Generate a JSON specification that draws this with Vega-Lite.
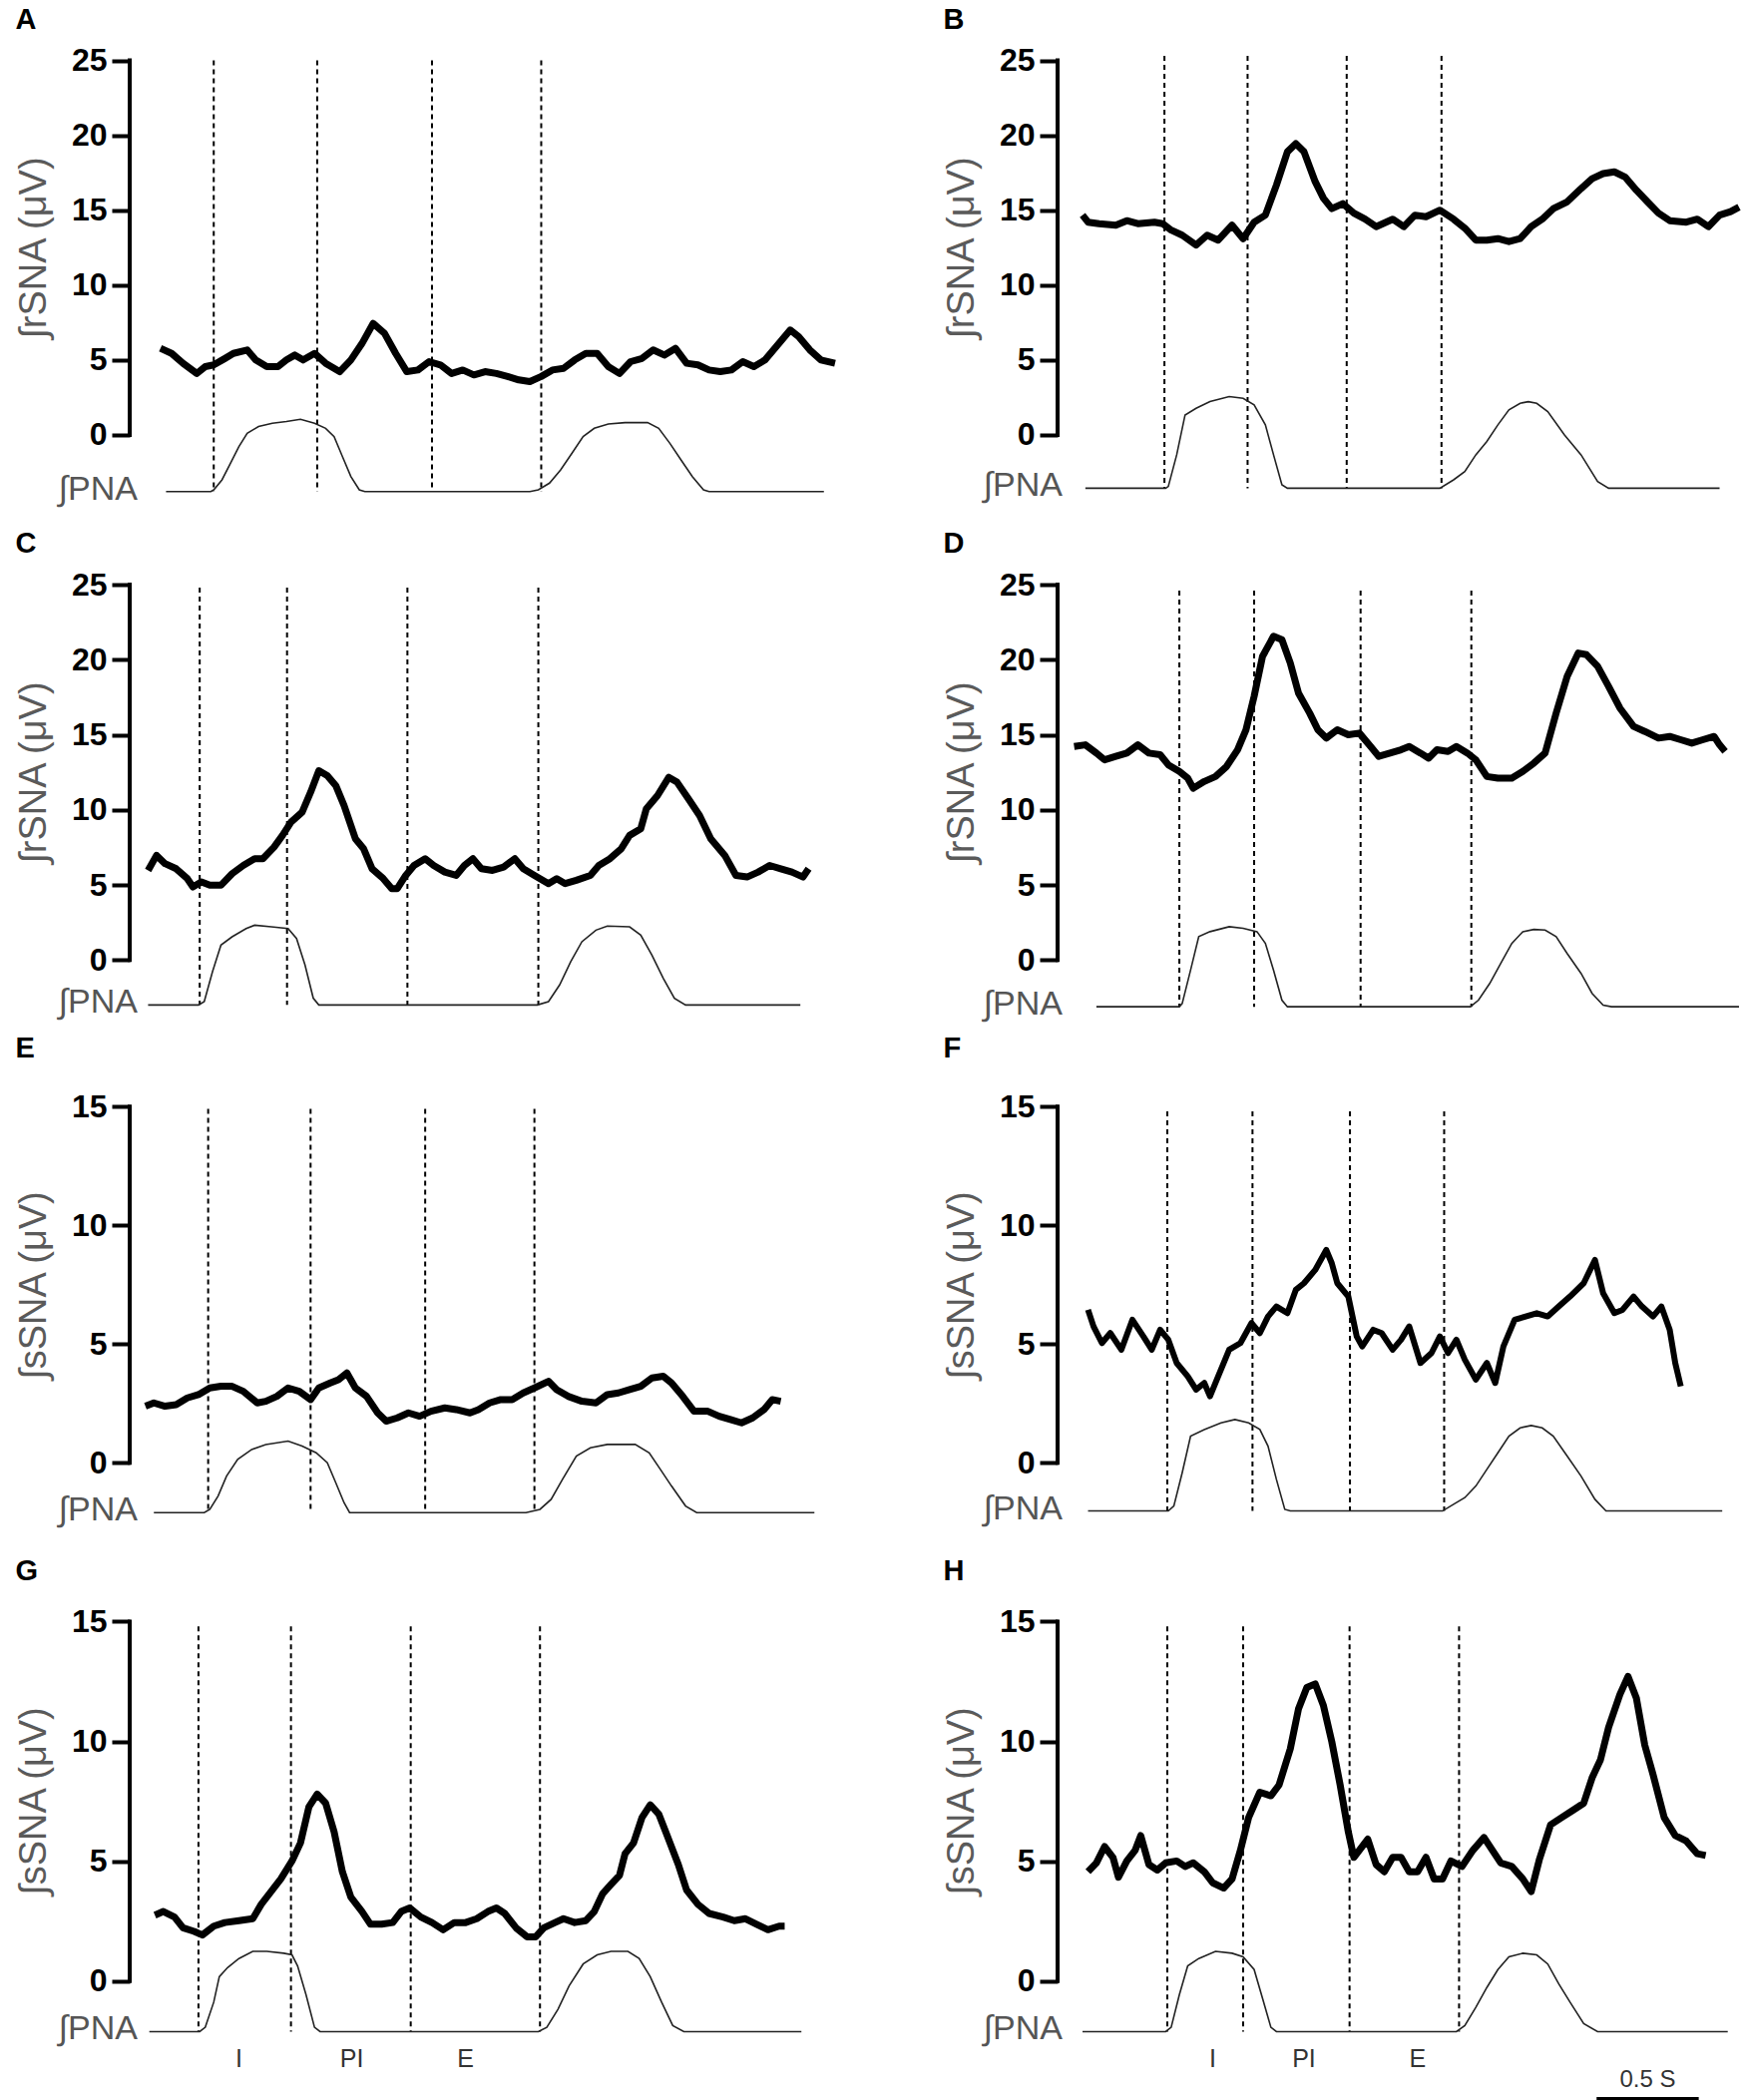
{
"$schema": "https://vega.github.io/schema/vega-lite/v6.json",
"padding": {"left": 15, "top": 5, "right": 0, "bottom": 0},
"background": "white",
"config": {
  "font": "Liberation Sans",
  "view": {"stroke": null},
  "axisY": {"domain": false, "grid": false, "ticks": true, "tickColor": "black", "tickWidth": 4, "tickSize": 18, "labelFont": "Liberation Sans", "labelFontSize": 32, "labelFontWeight": "bold", "labelColor": "black", "labelPadding": 5, "titleFont": "Liberation Sans", "titleFontSize": 38, "titleFontWeight": "normal", "titleColor": "#5a5a5a", "titlePadding": 18},
  "title": {"anchor": "start", "frame": "bounds", "fontSize": 29, "fontWeight": "bold", "font": "Liberation Sans", "color": "black"}
},
"datasets": {
"sA": [{"t":0.149,"v":5.78},{"t":0.203,"v":5.44},{"t":0.258,"v":4.78},{"t":0.325,"v":4.1},{"t":0.366,"v":4.56},{"t":0.407,"v":4.67},{"t":0.461,"v":5.1},{"t":0.502,"v":5.44},{"t":0.569,"v":5.67},{"t":0.610,"v":5.0},{"t":0.664,"v":4.56},{"t":0.718,"v":4.56},{"t":0.759,"v":5.0},{"t":0.800,"v":5.33},{"t":0.840,"v":5.0},{"t":0.895,"v":5.44},{"t":0.949,"v":4.78},{"t":1.017,"v":4.22},{"t":1.071,"v":5.0},{"t":1.125,"v":6.1},{"t":1.179,"v":7.44},{"t":1.234,"v":6.78},{"t":1.288,"v":5.44},{"t":1.342,"v":4.22},{"t":1.396,"v":4.33},{"t":1.450,"v":4.89},{"t":1.505,"v":4.67},{"t":1.559,"v":4.1},{"t":1.613,"v":4.33},{"t":1.667,"v":4.0},{"t":1.721,"v":4.22},{"t":1.776,"v":4.1},{"t":1.830,"v":3.9},{"t":1.884,"v":3.67},{"t":1.938,"v":3.56},{"t":1.993,"v":3.9},{"t":2.047,"v":4.33},{"t":2.101,"v":4.44},{"t":2.155,"v":5.0},{"t":2.209,"v":5.44},{"t":2.264,"v":5.44},{"t":2.318,"v":4.56},{"t":2.372,"v":4.1},{"t":2.426,"v":4.89},{"t":2.481,"v":5.1},{"t":2.535,"v":5.67},{"t":2.589,"v":5.33},{"t":2.643,"v":5.78},{"t":2.697,"v":4.78},{"t":2.752,"v":4.67},{"t":2.806,"v":4.33},{"t":2.860,"v":4.22},{"t":2.914,"v":4.33},{"t":2.969,"v":4.89},{"t":3.023,"v":4.56},{"t":3.077,"v":5.0},{"t":3.131,"v":5.89},{"t":3.199,"v":7.0},{"t":3.240,"v":6.56},{"t":3.294,"v":5.67},{"t":3.348,"v":5.0},{"t":3.416,"v":4.78}],
"pA": [{"t":0.176,"v":-3.78},{"t":0.393,"v":-3.78},{"t":0.407,"v":-3.67},{"t":0.447,"v":-3.0},{"t":0.488,"v":-1.89},{"t":0.529,"v":-0.78},{"t":0.569,"v":0.11},{"t":0.624,"v":0.56},{"t":0.691,"v":0.78},{"t":0.759,"v":0.89},{"t":0.827,"v":1.04},{"t":0.895,"v":0.78},{"t":0.949,"v":0.44},{"t":0.990,"v":-0.11},{"t":1.030,"v":-1.44},{"t":1.071,"v":-2.78},{"t":1.112,"v":-3.67},{"t":1.139,"v":-3.78},{"t":1.938,"v":-3.78},{"t":1.979,"v":-3.67},{"t":2.033,"v":-3.22},{"t":2.087,"v":-2.33},{"t":2.142,"v":-1.22},{"t":2.196,"v":-0.11},{"t":2.250,"v":0.44},{"t":2.318,"v":0.73},{"t":2.399,"v":0.82},{"t":2.508,"v":0.82},{"t":2.562,"v":0.44},{"t":2.616,"v":-0.56},{"t":2.670,"v":-1.67},{"t":2.725,"v":-2.78},{"t":2.779,"v":-3.67},{"t":2.806,"v":-3.78},{"t":3.362,"v":-3.78}],
"sB": [{"t":0.122,"v":14.67},{"t":0.149,"v":14.2},{"t":0.203,"v":14.1},{"t":0.285,"v":14.0},{"t":0.339,"v":14.3},{"t":0.393,"v":14.1},{"t":0.474,"v":14.2},{"t":0.515,"v":14.1},{"t":0.556,"v":13.67},{"t":0.610,"v":13.33},{"t":0.678,"v":12.67},{"t":0.732,"v":13.33},{"t":0.786,"v":13.0},{"t":0.854,"v":14.0},{"t":0.908,"v":13.1},{"t":0.962,"v":14.2},{"t":1.017,"v":14.67},{"t":1.071,"v":16.67},{"t":1.125,"v":18.9},{"t":1.166,"v":19.44},{"t":1.206,"v":18.9},{"t":1.261,"v":16.9},{"t":1.301,"v":15.8},{"t":1.342,"v":15.1},{"t":1.396,"v":15.44},{"t":1.450,"v":14.8},{"t":1.505,"v":14.4},{"t":1.559,"v":13.9},{"t":1.640,"v":14.4},{"t":1.694,"v":13.9},{"t":1.749,"v":14.67},{"t":1.803,"v":14.56},{"t":1.871,"v":15.0},{"t":1.938,"v":14.4},{"t":1.993,"v":13.8},{"t":2.047,"v":13.0},{"t":2.101,"v":13.0},{"t":2.155,"v":13.1},{"t":2.209,"v":12.9},{"t":2.264,"v":13.1},{"t":2.318,"v":13.9},{"t":2.372,"v":14.4},{"t":2.426,"v":15.1},{"t":2.494,"v":15.56},{"t":2.562,"v":16.44},{"t":2.616,"v":17.1},{"t":2.670,"v":17.44},{"t":2.725,"v":17.56},{"t":2.779,"v":17.2},{"t":2.833,"v":16.33},{"t":2.887,"v":15.56},{"t":2.941,"v":14.8},{"t":2.996,"v":14.3},{"t":3.077,"v":14.2},{"t":3.131,"v":14.4},{"t":3.185,"v":13.9},{"t":3.240,"v":14.67},{"t":3.294,"v":14.9},{"t":3.335,"v":15.2}],
"pB": [{"t":0.136,"v":-3.56},{"t":0.529,"v":-3.56},{"t":0.542,"v":-3.44},{"t":0.583,"v":-1.33},{"t":0.624,"v":1.33},{"t":0.678,"v":1.78},{"t":0.746,"v":2.22},{"t":0.840,"v":2.56},{"t":0.908,"v":2.44},{"t":0.962,"v":2.0},{"t":1.017,"v":0.67},{"t":1.057,"v":-1.33},{"t":1.098,"v":-3.33},{"t":1.125,"v":-3.56},{"t":1.871,"v":-3.56},{"t":1.938,"v":-3.0},{"t":1.993,"v":-2.44},{"t":2.047,"v":-1.33},{"t":2.101,"v":-0.44},{"t":2.155,"v":0.67},{"t":2.209,"v":1.67},{"t":2.264,"v":2.11},{"t":2.304,"v":2.22},{"t":2.345,"v":2.11},{"t":2.399,"v":1.56},{"t":2.481,"v":0.0},{"t":2.562,"v":-1.33},{"t":2.643,"v":-3.11},{"t":2.697,"v":-3.56},{"t":3.240,"v":-3.56}],
"sC": [{"t":0.089,"v":5.97},{"t":0.130,"v":6.97},{"t":0.171,"v":6.42},{"t":0.225,"v":6.08},{"t":0.279,"v":5.42},{"t":0.306,"v":4.87},{"t":0.347,"v":5.2},{"t":0.388,"v":4.98},{"t":0.442,"v":4.98},{"t":0.496,"v":5.75},{"t":0.550,"v":6.3},{"t":0.605,"v":6.75},{"t":0.645,"v":6.75},{"t":0.699,"v":7.52},{"t":0.740,"v":8.3},{"t":0.781,"v":9.18},{"t":0.835,"v":9.85},{"t":0.876,"v":11.17},{"t":0.916,"v":12.61},{"t":0.957,"v":12.28},{"t":0.998,"v":11.62},{"t":1.038,"v":10.29},{"t":1.093,"v":8.08},{"t":1.133,"v":7.41},{"t":1.174,"v":6.08},{"t":1.228,"v":5.42},{"t":1.269,"v":4.76},{"t":1.296,"v":4.76},{"t":1.337,"v":5.64},{"t":1.377,"v":6.3},{"t":1.431,"v":6.75},{"t":1.472,"v":6.3},{"t":1.526,"v":5.86},{"t":1.581,"v":5.64},{"t":1.621,"v":6.3},{"t":1.662,"v":6.75},{"t":1.703,"v":6.08},{"t":1.757,"v":5.97},{"t":1.811,"v":6.19},{"t":1.865,"v":6.75},{"t":1.906,"v":6.08},{"t":1.960,"v":5.64},{"t":2.028,"v":5.09},{"t":2.068,"v":5.42},{"t":2.109,"v":5.09},{"t":2.163,"v":5.31},{"t":2.231,"v":5.64},{"t":2.272,"v":6.3},{"t":2.326,"v":6.75},{"t":2.380,"v":7.41},{"t":2.421,"v":8.3},{"t":2.475,"v":8.74},{"t":2.502,"v":10.07},{"t":2.556,"v":10.95},{"t":2.611,"v":12.17},{"t":2.651,"v":11.84},{"t":2.706,"v":10.73},{"t":2.760,"v":9.62},{"t":2.814,"v":8.08},{"t":2.882,"v":6.97},{"t":2.936,"v":5.64},{"t":2.990,"v":5.53},{"t":3.044,"v":5.86},{"t":3.099,"v":6.3},{"t":3.153,"v":6.08},{"t":3.207,"v":5.86},{"t":3.261,"v":5.53},{"t":3.288,"v":6.08}],
"pC": [{"t":0.089,"v":-2.99},{"t":0.333,"v":-2.99},{"t":0.361,"v":-2.77},{"t":0.401,"v":-0.77},{"t":0.442,"v":1.0},{"t":0.496,"v":1.55},{"t":0.564,"v":2.1},{"t":0.605,"v":2.32},{"t":0.686,"v":2.21},{"t":0.767,"v":2.1},{"t":0.808,"v":1.44},{"t":0.849,"v":-0.33},{"t":0.889,"v":-2.54},{"t":0.916,"v":-2.99},{"t":1.974,"v":-2.99},{"t":2.028,"v":-2.77},{"t":2.082,"v":-1.66},{"t":2.136,"v":-0.11},{"t":2.190,"v":1.22},{"t":2.258,"v":1.99},{"t":2.313,"v":2.26},{"t":2.421,"v":2.21},{"t":2.475,"v":1.66},{"t":2.529,"v":0.33},{"t":2.584,"v":-1.22},{"t":2.638,"v":-2.54},{"t":2.692,"v":-2.99},{"t":3.248,"v":-2.99}],
"sD": [{"t":0.081,"v":14.22},{"t":0.136,"v":14.33},{"t":0.190,"v":13.78},{"t":0.230,"v":13.33},{"t":0.285,"v":13.56},{"t":0.339,"v":13.78},{"t":0.393,"v":14.33},{"t":0.447,"v":13.78},{"t":0.502,"v":13.67},{"t":0.542,"v":13.0},{"t":0.596,"v":12.56},{"t":0.637,"v":12.11},{"t":0.664,"v":11.44},{"t":0.718,"v":11.89},{"t":0.773,"v":12.22},{"t":0.827,"v":12.89},{"t":0.881,"v":14.0},{"t":0.922,"v":15.33},{"t":0.962,"v":17.56},{"t":1.003,"v":20.22},{"t":1.057,"v":21.56},{"t":1.098,"v":21.33},{"t":1.139,"v":19.78},{"t":1.179,"v":17.78},{"t":1.234,"v":16.44},{"t":1.274,"v":15.33},{"t":1.315,"v":14.78},{"t":1.369,"v":15.33},{"t":1.423,"v":15.0},{"t":1.477,"v":15.11},{"t":1.532,"v":14.22},{"t":1.572,"v":13.56},{"t":1.627,"v":13.78},{"t":1.681,"v":14.0},{"t":1.721,"v":14.22},{"t":1.776,"v":13.78},{"t":1.816,"v":13.44},{"t":1.857,"v":14.0},{"t":1.911,"v":13.89},{"t":1.952,"v":14.22},{"t":2.006,"v":13.78},{"t":2.047,"v":13.33},{"t":2.101,"v":12.22},{"t":2.155,"v":12.11},{"t":2.223,"v":12.11},{"t":2.277,"v":12.56},{"t":2.331,"v":13.11},{"t":2.386,"v":13.78},{"t":2.440,"v":16.44},{"t":2.494,"v":18.89},{"t":2.548,"v":20.44},{"t":2.589,"v":20.33},{"t":2.643,"v":19.56},{"t":2.697,"v":18.22},{"t":2.752,"v":16.78},{"t":2.819,"v":15.56},{"t":2.874,"v":15.22},{"t":2.941,"v":14.78},{"t":2.996,"v":14.89},{"t":3.050,"v":14.67},{"t":3.104,"v":14.44},{"t":3.158,"v":14.67},{"t":3.213,"v":14.89},{"t":3.240,"v":14.33},{"t":3.267,"v":13.89}],
"pD": [{"t":0.190,"v":-3.11},{"t":0.596,"v":-3.11},{"t":0.610,"v":-2.89},{"t":0.651,"v":-0.67},{"t":0.691,"v":1.56},{"t":0.746,"v":1.89},{"t":0.840,"v":2.22},{"t":0.908,"v":2.11},{"t":0.976,"v":1.89},{"t":1.017,"v":1.11},{"t":1.057,"v":-0.67},{"t":1.098,"v":-2.67},{"t":1.125,"v":-3.11},{"t":2.020,"v":-3.11},{"t":2.060,"v":-2.67},{"t":2.115,"v":-1.56},{"t":2.169,"v":-0.22},{"t":2.223,"v":1.11},{"t":2.277,"v":1.89},{"t":2.331,"v":2.04},{"t":2.386,"v":2.0},{"t":2.440,"v":1.56},{"t":2.494,"v":0.44},{"t":2.562,"v":-0.89},{"t":2.616,"v":-2.22},{"t":2.670,"v":-3.0},{"t":2.711,"v":-3.11},{"t":3.335,"v":-3.11}],
"sE": [{"t":0.076,"v":2.38},{"t":0.117,"v":2.52},{"t":0.171,"v":2.38},{"t":0.225,"v":2.45},{"t":0.279,"v":2.73},{"t":0.333,"v":2.87},{"t":0.388,"v":3.15},{"t":0.442,"v":3.22},{"t":0.496,"v":3.22},{"t":0.550,"v":3.01},{"t":0.618,"v":2.52},{"t":0.659,"v":2.59},{"t":0.713,"v":2.8},{"t":0.767,"v":3.15},{"t":0.821,"v":3.01},{"t":0.876,"v":2.66},{"t":0.916,"v":3.15},{"t":0.971,"v":3.36},{"t":1.011,"v":3.5},{"t":1.052,"v":3.78},{"t":1.093,"v":3.15},{"t":1.147,"v":2.8},{"t":1.201,"v":2.1},{"t":1.242,"v":1.75},{"t":1.296,"v":1.89},{"t":1.350,"v":2.1},{"t":1.404,"v":1.96},{"t":1.459,"v":2.17},{"t":1.526,"v":2.31},{"t":1.581,"v":2.24},{"t":1.648,"v":2.1},{"t":1.689,"v":2.24},{"t":1.743,"v":2.52},{"t":1.797,"v":2.66},{"t":1.852,"v":2.66},{"t":1.906,"v":2.94},{"t":1.960,"v":3.15},{"t":2.028,"v":3.43},{"t":2.068,"v":3.08},{"t":2.123,"v":2.8},{"t":2.190,"v":2.59},{"t":2.258,"v":2.52},{"t":2.313,"v":2.87},{"t":2.367,"v":2.94},{"t":2.421,"v":3.08},{"t":2.475,"v":3.22},{"t":2.529,"v":3.57},{"t":2.584,"v":3.64},{"t":2.624,"v":3.36},{"t":2.678,"v":2.8},{"t":2.733,"v":2.17},{"t":2.800,"v":2.17},{"t":2.855,"v":1.96},{"t":2.909,"v":1.82},{"t":2.963,"v":1.68},{"t":3.017,"v":1.89},{"t":3.072,"v":2.24},{"t":3.112,"v":2.66},{"t":3.153,"v":2.59}],
"pE": [{"t":0.117,"v":-2.10},{"t":0.361,"v":-2.10},{"t":0.388,"v":-1.96},{"t":0.428,"v":-1.40},{"t":0.469,"v":-0.56},{"t":0.523,"v":0.14},{"t":0.591,"v":0.56},{"t":0.659,"v":0.77},{"t":0.767,"v":0.91},{"t":0.835,"v":0.70},{"t":0.903,"v":0.42},{"t":0.957,"v":0.0},{"t":0.998,"v":-0.84},{"t":1.038,"v":-1.68},{"t":1.065,"v":-2.10},{"t":1.919,"v":-2.10},{"t":1.987,"v":-1.96},{"t":2.041,"v":-1.54},{"t":2.096,"v":-0.70},{"t":2.163,"v":0.28},{"t":2.231,"v":0.63},{"t":2.313,"v":0.77},{"t":2.448,"v":0.77},{"t":2.516,"v":0.42},{"t":2.570,"v":-0.28},{"t":2.624,"v":-0.98},{"t":2.692,"v":-1.82},{"t":2.746,"v":-2.10},{"t":3.316,"v":-2.10}],
"sF": [{"t":0.149,"v":6.44},{"t":0.176,"v":5.74},{"t":0.217,"v":5.04},{"t":0.258,"v":5.46},{"t":0.312,"v":4.76},{"t":0.366,"v":6.02},{"t":0.420,"v":5.32},{"t":0.461,"v":4.76},{"t":0.502,"v":5.6},{"t":0.542,"v":5.18},{"t":0.583,"v":4.2},{"t":0.637,"v":3.64},{"t":0.678,"v":3.08},{"t":0.718,"v":3.36},{"t":0.746,"v":2.8},{"t":0.786,"v":3.64},{"t":0.840,"v":4.76},{"t":0.895,"v":5.04},{"t":0.949,"v":5.88},{"t":0.990,"v":5.46},{"t":1.030,"v":6.16},{"t":1.071,"v":6.58},{"t":1.125,"v":6.3},{"t":1.166,"v":7.28},{"t":1.206,"v":7.56},{"t":1.261,"v":8.12},{"t":1.315,"v":8.96},{"t":1.342,"v":8.4},{"t":1.369,"v":7.56},{"t":1.423,"v":7.0},{"t":1.464,"v":5.32},{"t":1.491,"v":4.9},{"t":1.545,"v":5.6},{"t":1.586,"v":5.46},{"t":1.640,"v":4.76},{"t":1.681,"v":5.18},{"t":1.721,"v":5.74},{"t":1.776,"v":4.2},{"t":1.830,"v":4.62},{"t":1.871,"v":5.32},{"t":1.911,"v":4.62},{"t":1.952,"v":5.18},{"t":1.993,"v":4.34},{"t":2.047,"v":3.5},{"t":2.101,"v":4.2},{"t":2.142,"v":3.36},{"t":2.182,"v":4.9},{"t":2.237,"v":6.02},{"t":2.291,"v":6.16},{"t":2.345,"v":6.3},{"t":2.399,"v":6.16},{"t":2.453,"v":6.58},{"t":2.508,"v":7.0},{"t":2.575,"v":7.56},{"t":2.630,"v":8.54},{"t":2.670,"v":7.14},{"t":2.725,"v":6.3},{"t":2.765,"v":6.44},{"t":2.819,"v":7.0},{"t":2.860,"v":6.58},{"t":2.914,"v":6.16},{"t":2.955,"v":6.58},{"t":2.996,"v":5.6},{"t":3.023,"v":4.2},{"t":3.050,"v":3.22}],
"pF": [{"t":0.149,"v":-2.03},{"t":0.542,"v":-2.03},{"t":0.569,"v":-1.82},{"t":0.610,"v":-0.42},{"t":0.651,"v":1.12},{"t":0.718,"v":1.40},{"t":0.800,"v":1.68},{"t":0.868,"v":1.82},{"t":0.935,"v":1.68},{"t":0.990,"v":1.40},{"t":1.030,"v":0.70},{"t":1.071,"v":-0.70},{"t":1.112,"v":-1.96},{"t":1.139,"v":-2.03},{"t":1.884,"v":-2.03},{"t":1.938,"v":-1.75},{"t":1.993,"v":-1.47},{"t":2.047,"v":-0.98},{"t":2.101,"v":-0.28},{"t":2.155,"v":0.42},{"t":2.209,"v":1.12},{"t":2.264,"v":1.47},{"t":2.318,"v":1.57},{"t":2.372,"v":1.47},{"t":2.426,"v":1.12},{"t":2.494,"v":0.28},{"t":2.562,"v":-0.56},{"t":2.630,"v":-1.54},{"t":2.684,"v":-2.03},{"t":3.253,"v":-2.03}],
"sG": [{"t":0.122,"v":2.75},{"t":0.163,"v":2.9},{"t":0.217,"v":2.67},{"t":0.258,"v":2.22},{"t":0.312,"v":2.07},{"t":0.352,"v":1.92},{"t":0.407,"v":2.29},{"t":0.461,"v":2.44},{"t":0.529,"v":2.52},{"t":0.596,"v":2.6},{"t":0.637,"v":3.2},{"t":0.691,"v":3.8},{"t":0.732,"v":4.26},{"t":0.786,"v":5.01},{"t":0.827,"v":5.76},{"t":0.868,"v":7.27},{"t":0.908,"v":7.8},{"t":0.949,"v":7.42},{"t":0.990,"v":6.22},{"t":1.030,"v":4.56},{"t":1.071,"v":3.5},{"t":1.125,"v":2.9},{"t":1.166,"v":2.37},{"t":1.220,"v":2.37},{"t":1.274,"v":2.44},{"t":1.315,"v":2.9},{"t":1.356,"v":3.05},{"t":1.410,"v":2.67},{"t":1.464,"v":2.44},{"t":1.518,"v":2.14},{"t":1.572,"v":2.44},{"t":1.627,"v":2.44},{"t":1.681,"v":2.6},{"t":1.735,"v":2.9},{"t":1.776,"v":3.05},{"t":1.816,"v":2.82},{"t":1.871,"v":2.22},{"t":1.925,"v":1.84},{"t":1.965,"v":1.84},{"t":2.006,"v":2.22},{"t":2.060,"v":2.44},{"t":2.101,"v":2.6},{"t":2.155,"v":2.44},{"t":2.209,"v":2.52},{"t":2.250,"v":2.9},{"t":2.291,"v":3.65},{"t":2.331,"v":4.03},{"t":2.372,"v":4.41},{"t":2.399,"v":5.31},{"t":2.440,"v":5.76},{"t":2.481,"v":6.82},{"t":2.521,"v":7.35},{"t":2.562,"v":6.97},{"t":2.603,"v":6.07},{"t":2.657,"v":4.86},{"t":2.697,"v":3.8},{"t":2.752,"v":3.2},{"t":2.806,"v":2.82},{"t":2.874,"v":2.67},{"t":2.928,"v":2.52},{"t":2.982,"v":2.6},{"t":3.036,"v":2.37},{"t":3.091,"v":2.14},{"t":3.145,"v":2.29},{"t":3.172,"v":2.29}],
"pG": [{"t":0.095,"v":-2.11},{"t":0.339,"v":-2.11},{"t":0.366,"v":-1.93},{"t":0.407,"v":-0.88},{"t":0.434,"v":0.18},{"t":0.474,"v":0.56},{"t":0.529,"v":0.94},{"t":0.596,"v":1.24},{"t":0.664,"v":1.24},{"t":0.746,"v":1.16},{"t":0.786,"v":1.09},{"t":0.813,"v":0.63},{"t":0.854,"v":-0.57},{"t":0.895,"v":-1.93},{"t":0.922,"v":-2.11},{"t":1.979,"v":-2.11},{"t":2.020,"v":-1.93},{"t":2.074,"v":-1.18},{"t":2.128,"v":-0.20},{"t":2.196,"v":0.71},{"t":2.264,"v":1.09},{"t":2.331,"v":1.24},{"t":2.413,"v":1.24},{"t":2.467,"v":0.94},{"t":2.521,"v":0.18},{"t":2.576,"v":-0.88},{"t":2.630,"v":-1.86},{"t":2.684,"v":-2.11},{"t":3.253,"v":-2.11}],
"sH": [{"t":0.149,"v":4.56},{"t":0.190,"v":4.93},{"t":0.230,"v":5.61},{"t":0.271,"v":5.16},{"t":0.298,"v":4.33},{"t":0.339,"v":5.01},{"t":0.380,"v":5.46},{"t":0.407,"v":6.07},{"t":0.447,"v":4.86},{"t":0.488,"v":4.63},{"t":0.529,"v":4.93},{"t":0.583,"v":5.01},{"t":0.624,"v":4.78},{"t":0.664,"v":4.93},{"t":0.718,"v":4.56},{"t":0.759,"v":4.1},{"t":0.813,"v":3.88},{"t":0.854,"v":4.26},{"t":0.895,"v":5.46},{"t":0.935,"v":6.82},{"t":0.990,"v":7.88},{"t":1.044,"v":7.73},{"t":1.084,"v":8.18},{"t":1.139,"v":9.69},{"t":1.179,"v":11.35},{"t":1.220,"v":12.25},{"t":1.261,"v":12.4},{"t":1.301,"v":11.5},{"t":1.342,"v":9.99},{"t":1.383,"v":8.18},{"t":1.423,"v":6.22},{"t":1.450,"v":5.16},{"t":1.477,"v":5.46},{"t":1.518,"v":5.92},{"t":1.559,"v":4.86},{"t":1.599,"v":4.56},{"t":1.640,"v":5.16},{"t":1.681,"v":5.16},{"t":1.721,"v":4.56},{"t":1.762,"v":4.56},{"t":1.803,"v":5.16},{"t":1.843,"v":4.26},{"t":1.884,"v":4.26},{"t":1.925,"v":5.01},{"t":1.979,"v":4.78},{"t":2.033,"v":5.46},{"t":2.087,"v":5.99},{"t":2.128,"v":5.46},{"t":2.169,"v":4.93},{"t":2.223,"v":4.78},{"t":2.277,"v":4.26},{"t":2.318,"v":3.73},{"t":2.359,"v":5.1},{"t":2.413,"v":6.52},{"t":2.467,"v":6.82},{"t":2.521,"v":7.12},{"t":2.575,"v":7.42},{"t":2.616,"v":8.48},{"t":2.657,"v":9.23},{"t":2.697,"v":10.59},{"t":2.752,"v":11.95},{"t":2.792,"v":12.71},{"t":2.833,"v":11.8},{"t":2.874,"v":9.84},{"t":2.914,"v":8.63},{"t":2.969,"v":6.82},{"t":3.023,"v":6.07},{"t":3.077,"v":5.84},{"t":3.131,"v":5.31},{"t":3.172,"v":5.24}],
"pH": [{"t":0.122,"v":-2.11},{"t":0.529,"v":-2.11},{"t":0.556,"v":-1.93},{"t":0.596,"v":-0.57},{"t":0.637,"v":0.63},{"t":0.691,"v":0.94},{"t":0.773,"v":1.24},{"t":0.854,"v":1.16},{"t":0.908,"v":1.01},{"t":0.962,"v":0.48},{"t":1.003,"v":-0.72},{"t":1.044,"v":-1.93},{"t":1.071,"v":-2.11},{"t":1.952,"v":-2.11},{"t":1.993,"v":-1.86},{"t":2.047,"v":-1.10},{"t":2.101,"v":-0.27},{"t":2.155,"v":0.48},{"t":2.209,"v":1.01},{"t":2.277,"v":1.16},{"t":2.345,"v":1.09},{"t":2.399,"v":0.71},{"t":2.453,"v":-0.12},{"t":2.508,"v":-0.88},{"t":2.575,"v":-1.78},{"t":2.643,"v":-2.11},{"t":3.280,"v":-2.11}],
"dA": [{"t":0.407},{"t":0.908},{"t":1.464},{"t":1.993}],
"dB": [{"t":0.523},{"t":0.930},{"t":1.415},{"t":1.879}],
"dC": [{"t":0.339},{"t":0.762},{"t":1.345},{"t":1.979}],
"dD": [{"t":0.596},{"t":0.962},{"t":1.483},{"t":2.025}],
"dE": [{"t":0.380},{"t":0.876},{"t":1.431},{"t":1.960}],
"dF": [{"t":0.537},{"t":0.954},{"t":1.431},{"t":1.892}],
"dG": [{"t":0.333},{"t":0.781},{"t":1.361},{"t":1.987}],
"dH": [{"t":0.537},{"t":0.908},{"t":1.429},{"t":1.965}],
"phG": [{"lab":"I","t":0.529},{"lab":"PI","t":1.076},{"lab":"E","t":1.627}],
"phH": [{"lab":"I","t":0.759},{"lab":"PI","t":1.206},{"lab":"E","t":1.762}],
"barH": [{"t1":2.638,"t2":3.138,"t":2.888,"lab":"0.5 S"}],
"pnaLab": [{"lab":"∫PNA"}],
"one": [{}]
},
"columns": 2,
"spacing": {"row": 90, "column": 216},
"bounds": "flush",
"align": "each",
"concat": [
 {"title": {"text": "A", "offset": 10}, "width": 714, "height": 443,
  "layer": [
   {"data": {"name": "dA"}, "mark": {"type": "rule", "color": "black", "strokeWidth": 2, "strokeDash": [5,4]}, "encoding": {"x": {"field": "t", "type": "quantitative", "scale": {"domain": [0, 3.45], "nice": false, "zero": false}, "axis": null}, "y": {"datum": 25, "type": "quantitative", "scale": {"domain": [-4, 25.5], "nice": false, "zero": false}}, "y2": {"datum": -3.78}}},
   {"data": {"name": "pA"}, "mark": {"type": "line", "color": "#222222", "strokeWidth": 1.6}, "encoding": {"x": {"field": "t", "type": "quantitative", "scale": {"domain": [0, 3.45], "nice": false, "zero": false}, "axis": null}, "y": {"field": "v", "type": "quantitative", "scale": {"domain": [-4, 25.5], "nice": false, "zero": false}}}},
   {"data": {"name": "sA"}, "mark": {"type": "line", "color": "black", "strokeWidth": 7, "strokeJoin": "round"}, "encoding": {"x": {"field": "t", "type": "quantitative", "scale": {"domain": [0, 3.45], "nice": false, "zero": false}, "axis": null}, "y": {"field": "v", "type": "quantitative", "scale": {"domain": [-4, 25.5], "nice": false, "zero": false}, "axis": {"values": [0,5,10,15,20,25], "title": "∫rSNA (μV)", "titleY": 195}}}},
   {"data": {"name": "one"}, "mark": {"type": "rule", "color": "black", "strokeWidth": 4, "strokeCap": "square"}, "encoding": {"x": {"datum": 0, "type": "quantitative", "scale": {"domain": [0, 3.45], "nice": false, "zero": false}, "axis": null}, "y": {"datum": 0, "type": "quantitative", "scale": {"domain": [-4, 25.5], "nice": false, "zero": false}}, "y2": {"datum": 25}}},
   {"data": {"name": "pnaLab"}, "mark": {"type": "text", "align": "right", "baseline": "alphabetic", "dx": 8, "dy": 8, "fontSize": 34, "color": "#555555"}, "encoding": {"x": {"datum": 0, "type": "quantitative", "scale": {"domain": [0, 3.45], "nice": false, "zero": false}, "axis": null}, "y": {"datum": -3.78, "type": "quantitative", "scale": {"domain": [-4, 25.5], "nice": false, "zero": false}}, "text": {"field": "lab"}}}
  ]},
 {"title": {"text": "B", "offset": 10}, "width": 684, "height": 443,
  "layer": [
   {"data": {"name": "dB"}, "mark": {"type": "rule", "color": "black", "strokeWidth": 2, "strokeDash": [5,4]}, "encoding": {"x": {"field": "t", "type": "quantitative", "scale": {"domain": [0, 3.34], "nice": false, "zero": false}, "axis": null}, "y": {"datum": 25.3, "type": "quantitative", "scale": {"domain": [-4, 25.5], "nice": false, "zero": false}}, "y2": {"datum": -3.56}}},
   {"data": {"name": "pB"}, "mark": {"type": "line", "color": "#222222", "strokeWidth": 1.6}, "encoding": {"x": {"field": "t", "type": "quantitative", "scale": {"domain": [0, 3.34], "nice": false, "zero": false}, "axis": null}, "y": {"field": "v", "type": "quantitative", "scale": {"domain": [-4, 25.5], "nice": false, "zero": false}}}},
   {"data": {"name": "sB"}, "mark": {"type": "line", "color": "black", "strokeWidth": 7, "strokeJoin": "round"}, "encoding": {"x": {"field": "t", "type": "quantitative", "scale": {"domain": [0, 3.34], "nice": false, "zero": false}, "axis": null}, "y": {"field": "v", "type": "quantitative", "scale": {"domain": [-4, 25.5], "nice": false, "zero": false}, "axis": {"values": [0,5,10,15,20,25], "title": "∫rSNA (μV)", "titleY": 195}}}},
   {"data": {"name": "one"}, "mark": {"type": "rule", "color": "black", "strokeWidth": 4, "strokeCap": "square"}, "encoding": {"x": {"datum": 0, "type": "quantitative", "scale": {"domain": [0, 3.34], "nice": false, "zero": false}, "axis": null}, "y": {"datum": 0, "type": "quantitative", "scale": {"domain": [-4, 25.5], "nice": false, "zero": false}}, "y2": {"datum": 25}}},
   {"data": {"name": "pnaLab"}, "mark": {"type": "text", "align": "right", "baseline": "alphabetic", "dx": 5, "dy": 8, "fontSize": 34, "color": "#555555"}, "encoding": {"x": {"datum": 0, "type": "quantitative", "scale": {"domain": [0, 3.34], "nice": false, "zero": false}, "axis": null}, "y": {"datum": -3.56, "type": "quantitative", "scale": {"domain": [-4, 25.5], "nice": false, "zero": false}}, "text": {"field": "lab"}}}
  ]},
 {"title": {"text": "C", "offset": 10}, "width": 714, "height": 426,
  "layer": [
   {"data": {"name": "dC"}, "mark": {"type": "rule", "color": "black", "strokeWidth": 2, "strokeDash": [5,4]}, "encoding": {"x": {"field": "t", "type": "quantitative", "scale": {"domain": [0, 3.45], "nice": false, "zero": false}, "axis": null}, "y": {"datum": 24.8, "type": "quantitative", "scale": {"domain": [-3.3, 25], "nice": false, "zero": false}}, "y2": {"datum": -2.99}}},
   {"data": {"name": "pC"}, "mark": {"type": "line", "color": "#222222", "strokeWidth": 1.6}, "encoding": {"x": {"field": "t", "type": "quantitative", "scale": {"domain": [0, 3.45], "nice": false, "zero": false}, "axis": null}, "y": {"field": "v", "type": "quantitative", "scale": {"domain": [-3.3, 25], "nice": false, "zero": false}}}},
   {"data": {"name": "sC"}, "mark": {"type": "line", "color": "black", "strokeWidth": 7, "strokeJoin": "round"}, "encoding": {"x": {"field": "t", "type": "quantitative", "scale": {"domain": [0, 3.45], "nice": false, "zero": false}, "axis": null}, "y": {"field": "v", "type": "quantitative", "scale": {"domain": [-3.3, 25], "nice": false, "zero": false}, "axis": {"values": [0,5,10,15,20,25], "title": "∫rSNA (μV)", "titleY": 188}}}},
   {"data": {"name": "one"}, "mark": {"type": "rule", "color": "black", "strokeWidth": 4, "strokeCap": "square"}, "encoding": {"x": {"datum": 0, "type": "quantitative", "scale": {"domain": [0, 3.45], "nice": false, "zero": false}, "axis": null}, "y": {"datum": 0, "type": "quantitative", "scale": {"domain": [-3.3, 25], "nice": false, "zero": false}}, "y2": {"datum": 25}}},
   {"data": {"name": "pnaLab"}, "mark": {"type": "text", "align": "right", "baseline": "alphabetic", "dx": 8, "dy": 8, "fontSize": 34, "color": "#555555"}, "encoding": {"x": {"datum": 0, "type": "quantitative", "scale": {"domain": [0, 3.45], "nice": false, "zero": false}, "axis": null}, "y": {"datum": -2.99, "type": "quantitative", "scale": {"domain": [-3.3, 25], "nice": false, "zero": false}}, "text": {"field": "lab"}}}
  ]},
 {"title": {"text": "D", "offset": 10}, "width": 684, "height": 426,
  "layer": [
   {"data": {"name": "dD"}, "mark": {"type": "rule", "color": "black", "strokeWidth": 2, "strokeDash": [5,4]}, "encoding": {"x": {"field": "t", "type": "quantitative", "scale": {"domain": [0, 3.34], "nice": false, "zero": false}, "axis": null}, "y": {"datum": 24.6, "type": "quantitative", "scale": {"domain": [-3.3, 25], "nice": false, "zero": false}}, "y2": {"datum": -3.11}}},
   {"data": {"name": "pD"}, "mark": {"type": "line", "color": "#222222", "strokeWidth": 1.6}, "encoding": {"x": {"field": "t", "type": "quantitative", "scale": {"domain": [0, 3.34], "nice": false, "zero": false}, "axis": null}, "y": {"field": "v", "type": "quantitative", "scale": {"domain": [-3.3, 25], "nice": false, "zero": false}}}},
   {"data": {"name": "sD"}, "mark": {"type": "line", "color": "black", "strokeWidth": 7, "strokeJoin": "round"}, "encoding": {"x": {"field": "t", "type": "quantitative", "scale": {"domain": [0, 3.34], "nice": false, "zero": false}, "axis": null}, "y": {"field": "v", "type": "quantitative", "scale": {"domain": [-3.3, 25], "nice": false, "zero": false}, "axis": {"values": [0,5,10,15,20,25], "title": "∫rSNA (μV)", "titleY": 188}}}},
   {"data": {"name": "one"}, "mark": {"type": "rule", "color": "black", "strokeWidth": 4, "strokeCap": "square"}, "encoding": {"x": {"datum": 0, "type": "quantitative", "scale": {"domain": [0, 3.34], "nice": false, "zero": false}, "axis": null}, "y": {"datum": 0, "type": "quantitative", "scale": {"domain": [-3.3, 25], "nice": false, "zero": false}}, "y2": {"datum": 25}}},
   {"data": {"name": "pnaLab"}, "mark": {"type": "text", "align": "right", "baseline": "alphabetic", "dx": 5, "dy": 8, "fontSize": 34, "color": "#555555"}, "encoding": {"x": {"datum": 0, "type": "quantitative", "scale": {"domain": [0, 3.34], "nice": false, "zero": false}, "axis": null}, "y": {"datum": -3.11, "type": "quantitative", "scale": {"domain": [-3.3, 25], "nice": false, "zero": false}}, "text": {"field": "lab"}}}
  ]},
 {"title": {"text": "E", "offset": 27}, "width": 714, "height": 419,
  "layer": [
   {"data": {"name": "dE"}, "mark": {"type": "rule", "color": "black", "strokeWidth": 2, "strokeDash": [5,4]}, "encoding": {"x": {"field": "t", "type": "quantitative", "scale": {"domain": [0, 3.45], "nice": false, "zero": false}, "axis": null}, "y": {"datum": 14.9, "type": "quantitative", "scale": {"domain": [-2.3, 15.3], "nice": false, "zero": false}}, "y2": {"datum": -2.10}}},
   {"data": {"name": "pE"}, "mark": {"type": "line", "color": "#222222", "strokeWidth": 1.6}, "encoding": {"x": {"field": "t", "type": "quantitative", "scale": {"domain": [0, 3.45], "nice": false, "zero": false}, "axis": null}, "y": {"field": "v", "type": "quantitative", "scale": {"domain": [-2.3, 15.3], "nice": false, "zero": false}}}},
   {"data": {"name": "sE"}, "mark": {"type": "line", "color": "black", "strokeWidth": 7, "strokeJoin": "round"}, "encoding": {"x": {"field": "t", "type": "quantitative", "scale": {"domain": [0, 3.45], "nice": false, "zero": false}, "axis": null}, "y": {"field": "v", "type": "quantitative", "scale": {"domain": [-2.3, 15.3], "nice": false, "zero": false}, "axis": {"values": [0,5,10,15], "title": "∫sSNA (μV)", "titleY": 186}}}},
   {"data": {"name": "one"}, "mark": {"type": "rule", "color": "black", "strokeWidth": 4, "strokeCap": "square"}, "encoding": {"x": {"datum": 0, "type": "quantitative", "scale": {"domain": [0, 3.45], "nice": false, "zero": false}, "axis": null}, "y": {"datum": 0, "type": "quantitative", "scale": {"domain": [-2.3, 15.3], "nice": false, "zero": false}}, "y2": {"datum": 15}}},
   {"data": {"name": "pnaLab"}, "mark": {"type": "text", "align": "right", "baseline": "alphabetic", "dx": 8, "dy": 8, "fontSize": 34, "color": "#555555"}, "encoding": {"x": {"datum": 0, "type": "quantitative", "scale": {"domain": [0, 3.45], "nice": false, "zero": false}, "axis": null}, "y": {"datum": -2.10, "type": "quantitative", "scale": {"domain": [-2.3, 15.3], "nice": false, "zero": false}}, "text": {"field": "lab"}}}
  ]},
 {"title": {"text": "F", "offset": 27}, "width": 684, "height": 419,
  "layer": [
   {"data": {"name": "dF"}, "mark": {"type": "rule", "color": "black", "strokeWidth": 2, "strokeDash": [5,4]}, "encoding": {"x": {"field": "t", "type": "quantitative", "scale": {"domain": [0, 3.34], "nice": false, "zero": false}, "axis": null}, "y": {"datum": 14.8, "type": "quantitative", "scale": {"domain": [-2.3, 15.3], "nice": false, "zero": false}}, "y2": {"datum": -2.03}}},
   {"data": {"name": "pF"}, "mark": {"type": "line", "color": "#222222", "strokeWidth": 1.6}, "encoding": {"x": {"field": "t", "type": "quantitative", "scale": {"domain": [0, 3.34], "nice": false, "zero": false}, "axis": null}, "y": {"field": "v", "type": "quantitative", "scale": {"domain": [-2.3, 15.3], "nice": false, "zero": false}}}},
   {"data": {"name": "sF"}, "mark": {"type": "line", "color": "black", "strokeWidth": 6, "strokeJoin": "round"}, "encoding": {"x": {"field": "t", "type": "quantitative", "scale": {"domain": [0, 3.34], "nice": false, "zero": false}, "axis": null}, "y": {"field": "v", "type": "quantitative", "scale": {"domain": [-2.3, 15.3], "nice": false, "zero": false}, "axis": {"values": [0,5,10,15], "title": "∫sSNA (μV)", "titleY": 186}}}},
   {"data": {"name": "one"}, "mark": {"type": "rule", "color": "black", "strokeWidth": 4, "strokeCap": "square"}, "encoding": {"x": {"datum": 0, "type": "quantitative", "scale": {"domain": [0, 3.34], "nice": false, "zero": false}, "axis": null}, "y": {"datum": 0, "type": "quantitative", "scale": {"domain": [-2.3, 15.3], "nice": false, "zero": false}}, "y2": {"datum": 15}}},
   {"data": {"name": "pnaLab"}, "mark": {"type": "text", "align": "right", "baseline": "alphabetic", "dx": 5, "dy": 8, "fontSize": 34, "color": "#555555"}, "encoding": {"x": {"datum": 0, "type": "quantitative", "scale": {"domain": [0, 3.34], "nice": false, "zero": false}, "axis": null}, "y": {"datum": -2.03, "type": "quantitative", "scale": {"domain": [-2.3, 15.3], "nice": false, "zero": false}}, "text": {"field": "lab"}}}
  ]},
 {"title": {"text": "G", "offset": 19}, "width": 714, "height": 430,
  "layer": [
   {"data": {"name": "dG"}, "mark": {"type": "rule", "color": "black", "strokeWidth": 2, "strokeDash": [5,4]}, "encoding": {"x": {"field": "t", "type": "quantitative", "scale": {"domain": [0, 3.45], "nice": false, "zero": false}, "axis": null}, "y": {"datum": 14.8, "type": "quantitative", "scale": {"domain": [-2.3, 15.6], "nice": false, "zero": false}}, "y2": {"datum": -2.11}}},
   {"data": {"name": "pG"}, "mark": {"type": "line", "color": "#222222", "strokeWidth": 1.6}, "encoding": {"x": {"field": "t", "type": "quantitative", "scale": {"domain": [0, 3.45], "nice": false, "zero": false}, "axis": null}, "y": {"field": "v", "type": "quantitative", "scale": {"domain": [-2.3, 15.6], "nice": false, "zero": false}}}},
   {"data": {"name": "sG"}, "mark": {"type": "line", "color": "black", "strokeWidth": 7, "strokeJoin": "round"}, "encoding": {"x": {"field": "t", "type": "quantitative", "scale": {"domain": [0, 3.45], "nice": false, "zero": false}, "axis": null}, "y": {"field": "v", "type": "quantitative", "scale": {"domain": [-2.3, 15.6], "nice": false, "zero": false}, "axis": {"values": [0,5,10,15], "title": "∫sSNA (μV)", "titleY": 194}}}},
   {"data": {"name": "one"}, "mark": {"type": "rule", "color": "black", "strokeWidth": 4, "strokeCap": "square"}, "encoding": {"x": {"datum": 0, "type": "quantitative", "scale": {"domain": [0, 3.45], "nice": false, "zero": false}, "axis": null}, "y": {"datum": 0, "type": "quantitative", "scale": {"domain": [-2.3, 15.6], "nice": false, "zero": false}}, "y2": {"datum": 15}}},
   {"data": {"name": "pnaLab"}, "mark": {"type": "text", "align": "right", "baseline": "alphabetic", "dx": 8, "dy": 8, "fontSize": 34, "color": "#555555"}, "encoding": {"x": {"datum": 0, "type": "quantitative", "scale": {"domain": [0, 3.45], "nice": false, "zero": false}, "axis": null}, "y": {"datum": -2.11, "type": "quantitative", "scale": {"domain": [-2.3, 15.6], "nice": false, "zero": false}}, "text": {"field": "lab"}}},
   {"data": {"name": "phG"}, "mark": {"type": "text", "align": "center", "baseline": "middle", "fontSize": 25, "color": "#333333"}, "encoding": {"x": {"field": "t", "type": "quantitative", "scale": {"domain": [0, 3.45], "nice": false, "zero": false}, "axis": null}, "y": {"datum": -3.25, "type": "quantitative", "scale": {"domain": [-2.3, 15.6], "nice": false, "zero": false}}, "text": {"field": "lab"}}}
  ]},
 {"title": {"text": "H", "offset": 19}, "width": 684, "height": 430,
  "layer": [
   {"data": {"name": "dH"}, "mark": {"type": "rule", "color": "black", "strokeWidth": 2, "strokeDash": [5,4]}, "encoding": {"x": {"field": "t", "type": "quantitative", "scale": {"domain": [0, 3.34], "nice": false, "zero": false}, "axis": null}, "y": {"datum": 14.8, "type": "quantitative", "scale": {"domain": [-2.3, 15.6], "nice": false, "zero": false}}, "y2": {"datum": -2.11}}},
   {"data": {"name": "pH"}, "mark": {"type": "line", "color": "#222222", "strokeWidth": 1.6}, "encoding": {"x": {"field": "t", "type": "quantitative", "scale": {"domain": [0, 3.34], "nice": false, "zero": false}, "axis": null}, "y": {"field": "v", "type": "quantitative", "scale": {"domain": [-2.3, 15.6], "nice": false, "zero": false}}}},
   {"data": {"name": "sH"}, "mark": {"type": "line", "color": "black", "strokeWidth": 7, "strokeJoin": "round"}, "encoding": {"x": {"field": "t", "type": "quantitative", "scale": {"domain": [0, 3.34], "nice": false, "zero": false}, "axis": null}, "y": {"field": "v", "type": "quantitative", "scale": {"domain": [-2.3, 15.6], "nice": false, "zero": false}, "axis": {"values": [0,5,10,15], "title": "∫sSNA (μV)", "titleY": 194}}}},
   {"data": {"name": "one"}, "mark": {"type": "rule", "color": "black", "strokeWidth": 4, "strokeCap": "square"}, "encoding": {"x": {"datum": 0, "type": "quantitative", "scale": {"domain": [0, 3.34], "nice": false, "zero": false}, "axis": null}, "y": {"datum": 0, "type": "quantitative", "scale": {"domain": [-2.3, 15.6], "nice": false, "zero": false}}, "y2": {"datum": 15}}},
   {"data": {"name": "pnaLab"}, "mark": {"type": "text", "align": "right", "baseline": "alphabetic", "dx": 5, "dy": 8, "fontSize": 34, "color": "#555555"}, "encoding": {"x": {"datum": 0, "type": "quantitative", "scale": {"domain": [0, 3.34], "nice": false, "zero": false}, "axis": null}, "y": {"datum": -2.11, "type": "quantitative", "scale": {"domain": [-2.3, 15.6], "nice": false, "zero": false}}, "text": {"field": "lab"}}},
   {"data": {"name": "phH"}, "mark": {"type": "text", "align": "center", "baseline": "middle", "fontSize": 25, "color": "#333333"}, "encoding": {"x": {"field": "t", "type": "quantitative", "scale": {"domain": [0, 3.34], "nice": false, "zero": false}, "axis": null}, "y": {"datum": -3.25, "type": "quantitative", "scale": {"domain": [-2.3, 15.6], "nice": false, "zero": false}}, "text": {"field": "lab"}}},
   {"data": {"name": "barH"}, "mark": {"type": "rule", "color": "black", "strokeWidth": 3}, "encoding": {"x": {"field": "t1", "type": "quantitative", "scale": {"domain": [0, 3.34], "nice": false, "zero": false}, "axis": null}, "x2": {"field": "t2"}, "y": {"datum": -4.9, "type": "quantitative", "scale": {"domain": [-2.3, 15.6], "nice": false, "zero": false}}}},
   {"data": {"name": "barH"}, "mark": {"type": "text", "align": "center", "baseline": "bottom", "dy": -6, "fontSize": 24, "color": "#333333"}, "encoding": {"x": {"field": "t", "type": "quantitative", "scale": {"domain": [0, 3.34], "nice": false, "zero": false}, "axis": null}, "y": {"datum": -4.9, "type": "quantitative", "scale": {"domain": [-2.3, 15.6], "nice": false, "zero": false}}, "text": {"field": "lab"}}}
  ]}
]
}
